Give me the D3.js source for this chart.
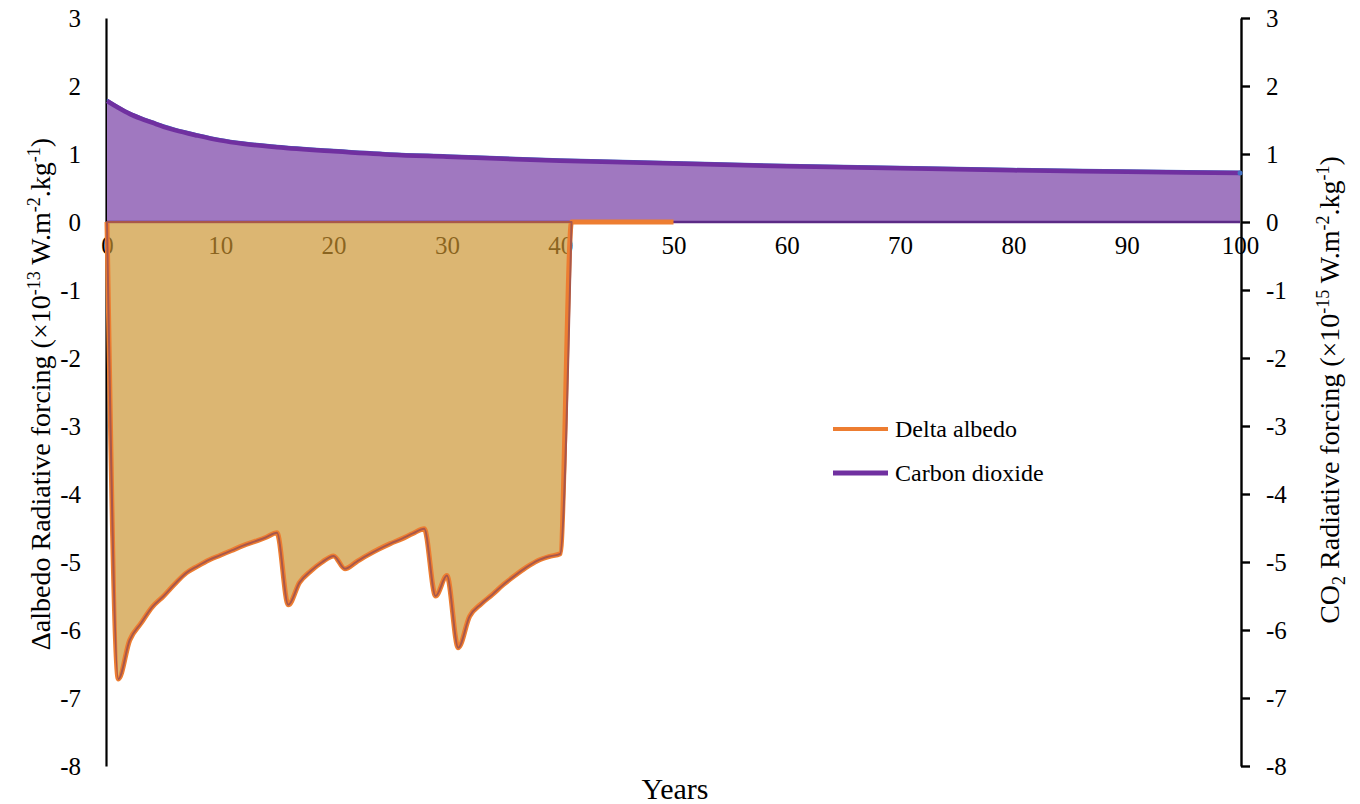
<!DOCTYPE html>
<html>
<head>
<meta charset="utf-8">
<script src="https://cdn.jsdelivr.net/npm/d3@7"></script>
<style>
  html, body { margin: 0; padding: 0; background: #fff; }
  svg { display: block; }
  svg text { font-family: "Liberation Serif", "Times New Roman", serif; }
</style>
</head>
<body>
<svg id="chart" width="1360" height="804"></svg>
<script>
// ---- data ----
const albedoYears = [0,1,2,3,4,5,6,7,8,9,10,11,12,13,14,15,16,17,18,19,20,21,22,23,24,25,26,27,28,29,30,31,32,33,34,35,36,37,38,39,40,41,42,43,44,45,46,47,48,49,50];
const albedoValues = [0,-6.72,-6.15,-5.9,-5.66,-5.5,-5.32,-5.16,-5.06,-4.97,-4.9,-4.83,-4.76,-4.7,-4.64,-4.57,-5.63,-5.3,-5.13,-5.0,-4.91,-5.1,-5.0,-4.9,-4.81,-4.73,-4.66,-4.58,-4.51,-5.5,-5.2,-6.26,-5.8,-5.62,-5.48,-5.33,-5.2,-5.08,-4.98,-4.92,-4.88,0,0,0,0,0,0,0,0,0,0];
const co2Years = [0,1,2,3,4,5,6,8,10,12,15,20,25,30,40,50,60,70,80,90,100];
const co2Values = [1.78,1.68,1.59,1.52,1.46,1.40,1.35,1.27,1.20,1.15,1.10,1.04,0.99,0.96,0.90,0.86,0.82,0.79,0.76,0.74,0.72];
const xTicks = [0,10,20,30,40,50,60,70,80,90,100];
const yTicks = [3,2,1,0,-1,-2,-3,-4,-5,-6,-7,-8];
const seriesNames = ["Delta albedo", "Carbon dioxide"];

const FONT = "Liberation Serif, Times New Roman, serif";
const fmt = d => String(d); // plain hyphen minus as in the reference

// ---- scales ----
const svg = d3.select("#chart");
const x = d3.scaleLinear().domain([0, 100]).range([107, 1240]);
const yL = d3.scaleLinear().domain([-8, 3]).range([766, 18]);
const yR = d3.scaleLinear().domain([-8, 3]).range([766, 18]);

const albedo = albedoYears.map((d, i) => ({x: d, y: albedoValues[i]}));
const co2 = co2Years.map((d, i) => ({x: d, y: co2Values[i]}));

// ---- x tick labels (drawn under the areas) ----
const xAxis = d3.axisBottom(x).tickValues(xTicks).tickSize(0).tickPadding(0).tickFormat(fmt);
const gx = svg.append("g").attr("transform", `translate(0,${yL(0)})`).call(xAxis);
gx.attr("font-family", FONT);
gx.select(".domain").remove();
gx.selectAll("text").attr("font-family", FONT)
  .attr("font-size", 25).attr("fill", "#000").attr("dy", "0").attr("y", 32);

// ---- left axis ----
const yAxisL = d3.axisLeft(yL).tickValues(yTicks).tickSize(0).tickPadding(25).tickFormat(fmt);
const gl = svg.append("g").attr("transform", `translate(106,0)`).call(yAxisL);
gl.attr("font-family", FONT);
gl.select(".domain").attr("stroke", "#000").attr("stroke-width", 2.2);
gl.selectAll("text").attr("font-family", FONT)
  .attr("font-size", 25).attr("fill", "#000");

// ---- right axis ----
const yAxisR = d3.axisRight(yR).tickValues(yTicks).tickSizeInner(9).tickSizeOuter(0).tickPadding(16).tickFormat(fmt);
const gr = svg.append("g").attr("transform", `translate(1241,0)`).call(yAxisR);
gr.attr("font-family", FONT);
gr.select(".domain").attr("stroke", "#000").attr("stroke-width", 2.4);
gr.selectAll(".tick line").attr("stroke", "#000").attr("stroke-width", 2.4);
gr.selectAll("text").attr("font-family", FONT)
  .attr("font-size", 25).attr("fill", "#000");

// ---- CO2 area ----
const co2Area = d3.area().x(d => x(d.x)).y0(yR(0)).y1(d => yR(d.y)).curve(d3.curveMonotoneX);
const co2Line = d3.line().x(d => x(d.x)).y(d => yR(d.y)).curve(d3.curveMonotoneX);
svg.append("path").datum(co2).attr("d", co2Area).attr("fill", "#a078c0");
svg.append("line").attr("x1", x(0)).attr("x2", x(100)).attr("y1", yR(0)).attr("y2", yR(0))
  .attr("stroke", "#5b2a86").attr("stroke-width", 2.5);
svg.append("path").datum(co2).attr("d", co2Line).attr("fill", "none")
  .attr("stroke", "#4472c4").attr("stroke-width", 2).attr("transform", "translate(0,-1.5)");
svg.append("path").datum(co2).attr("d", co2Line).attr("fill", "none")
  .attr("stroke", "#7030a0").attr("stroke-width", 4.5);
svg.append("circle").attr("cx", x(100)).attr("cy", yR(co2Values[co2Values.length - 1])).attr("r", 2.5).attr("fill", "#4472c4");

// ---- albedo area ----
const albArea = d3.area().x(d => x(d.x)).y0(yL(0)).y1(d => yL(d.y)).curve(d3.curveMonotoneX);
const albLine = d3.line().x(d => x(d.x)).y(d => yL(d.y)).curve(d3.curveMonotoneX);
const albFillData = albedo.filter(d => d.x <= 41);
svg.append("path").datum(albFillData).attr("d", albArea)
  .attr("fill", "rgb(204,147,47)").attr("fill-opacity", 0.68);
svg.append("path").datum(albedo).attr("d", albLine).attr("fill", "none")
  .attr("stroke", "#ed7d31").attr("stroke-width", 5).attr("stroke-linejoin", "round");
svg.append("path").attr("d", albArea(albFillData) + "Z").attr("fill", "none")
  .attr("stroke", "#a9574a").attr("stroke-width", 2).attr("stroke-linejoin", "round");

// ---- legend ----
const legend = svg.append("g").attr("font-family", FONT);
const legColors = ["#ed7d31", "#7030a0"];
const legY = [429, 473];
seriesNames.forEach((name, i) => {
  legend.append("line").attr("x1", 833).attr("x2", 888).attr("y1", legY[i]).attr("y2", legY[i])
    .attr("stroke", legColors[i]).attr("stroke-width", i === 0 ? 4 : 5);
  legend.append("text").attr("x", 895).attr("y", legY[i] + 8).attr("font-size", 24)
    .attr("font-family", FONT).attr("fill", "#000").text(name);
});

// ---- axis titles ----
const TS = 28, SS = 18, UP = 10, DN = 6;
const lt = svg.append("text").attr("transform", "translate(50,394) rotate(-90)")
  .attr("text-anchor", "middle").attr("font-size", TS).attr("font-family", FONT).attr("fill", "#000");
lt.append("tspan").text("Δalbedo Radiative forcing (×10");
lt.append("tspan").attr("font-size", SS).attr("dy", -UP).text("-13");
lt.append("tspan").attr("dy", UP).text(" W.m");
lt.append("tspan").attr("font-size", SS).attr("dy", -UP).text("-2");
lt.append("tspan").attr("dy", UP).text(".kg");
lt.append("tspan").attr("font-size", SS).attr("dy", -UP).text("-1");
lt.append("tspan").attr("dy", UP).text(")");

const rt = svg.append("text").attr("transform", "translate(1339,390) rotate(-90)")
  .attr("text-anchor", "middle").attr("font-size", TS).attr("font-family", FONT).attr("fill", "#000");
rt.append("tspan").text("CO");
rt.append("tspan").attr("font-size", SS).attr("dy", DN).text("2");
rt.append("tspan").attr("dy", -DN).text(" Radiative forcing (×10");
rt.append("tspan").attr("font-size", SS).attr("dy", -UP).text("-15");
rt.append("tspan").attr("dy", UP).text(" W.m");
rt.append("tspan").attr("font-size", SS).attr("dy", -UP).text("-2");
rt.append("tspan").attr("dy", UP).text(".kg");
rt.append("tspan").attr("font-size", SS).attr("dy", -UP).text("-1");
rt.append("tspan").attr("dy", UP).text(")");

svg.append("text").attr("x", 675).attr("y", 799).attr("text-anchor", "middle")
  .attr("font-size", 30).attr("font-family", FONT).attr("fill", "#000").text("Years");
</script>
</body>
</html>
